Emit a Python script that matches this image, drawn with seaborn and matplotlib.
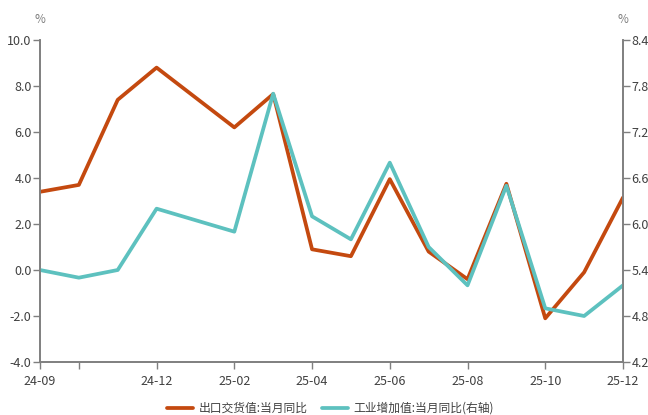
import seaborn as sns
import matplotlib.pyplot as plt
import pandas as pd

months = ['24-09', '24-10', '24-11', '24-12', '25-02', '25-03', '25-04', '25-05',
          '25-06', '25-07', '25-08', '25-09', '25-10', '25-11', '25-12']
export_yoy = [3.4, 3.7, 7.4, 8.8, 6.2, 7.65, 0.9, 0.6, 3.95, 0.8, -0.4, 3.75, -2.1, -0.1, 3.15]
industry_yoy = [5.4, 5.3, 5.4, 6.2, 5.9, 7.7, 6.1, 5.8, 6.8, 5.7, 5.2, 6.5, 4.9, 4.8, 5.2]
tick_months = ['24-09', '24-10', '24-12', '25-02', '25-04', '25-06', '25-08', '25-10', '25-12']
tick_labels = ['24-09', '', '24-12', '25-02', '25-04', '25-06', '25-08', '25-10', '25-12']


def month_index(s):
    y, m = s.split('-')
    return (int(y) - 24) * 12 + int(m) - 9


df = pd.DataFrame({'month': months, 'export': export_yoy, 'industry': industry_yoy})
df['x'] = df['month'].map(month_index)

sns.set_style('white')
plt.rcParams['font.family'] = ['Noto Sans CJK SC', 'DejaVu Sans']
plt.rcParams['axes.unicode_minus'] = False

orange = '#C4490F'
teal = '#5DC1BF'
gray = '#7f7f7f'
txt = '#404040'

fig = plt.figure(figsize=(6.48, 4.15), dpi=100)
ax = fig.add_axes([0.0617, 0.1277, 0.8997, 0.7759])
ax2 = ax.twinx()

sns.lineplot(data=df, x='x', y='export', ax=ax, color=orange, linewidth=2.7,
             label='出口交货值:当月同比', legend=False)
sns.lineplot(data=df, x='x', y='industry', ax=ax2, color=teal, linewidth=2.7,
             label='工业增加值:当月同比(右轴)', legend=False)

ax.set_xlim(0, 15)
ax.set_ylim(-4, 10)
ax2.set_ylim(4.2, 8.4)
ax.set_yticks([-4, -2, 0, 2, 4, 6, 8, 10])
ax.set_yticklabels([f'{v:.1f}' for v in [-4, -2, 0, 2, 4, 6, 8, 10]])
ax2.set_yticks([4.2, 4.8, 5.4, 6.0, 6.6, 7.2, 7.8, 8.4])
ax2.set_yticklabels([f'{v:.1f}' for v in [4.2, 4.8, 5.4, 6.0, 6.6, 7.2, 7.8, 8.4]])
ax.set_xticks([month_index(m) for m in tick_months])
ax.set_xticklabels(tick_labels)
ax.set_xlabel('')
ax.set_ylabel('')
ax2.set_ylabel('')

for a in (ax, ax2):
    a.spines['top'].set_visible(False)
    for side in ['left', 'right', 'bottom']:
        a.spines[side].set_color(gray)
        a.spines[side].set_linewidth(1.2)
    a.tick_params(axis='both', colors=gray, labelcolor=txt, labelsize=9,
                  length=5, width=1, direction='out', pad=1)
ax.tick_params(axis='x', bottom=True, pad=4)
ax.tick_params(axis='y', left=True)
ax2.tick_params(axis='y', right=True)

ax.text(0, 1.045, '%', transform=ax.transAxes, ha='center', va='bottom',
        fontsize=8.5, color=gray)
ax.text(1, 1.045, '%', transform=ax.transAxes, ha='center', va='bottom',
        fontsize=8.5, color=gray)

h1, l1 = ax.get_legend_handles_labels()
h2, l2 = ax2.get_legend_handles_labels()
fig.legend(h1 + h2, l1 + l2, loc='lower center', bbox_to_anchor=(0.51, -0.025),
           ncol=2, frameon=False, fontsize=8.5, handlelength=2.2,
           columnspacing=1.2, handletextpad=0.5, labelcolor=txt)

fig.savefig('out.png', dpi=100)
